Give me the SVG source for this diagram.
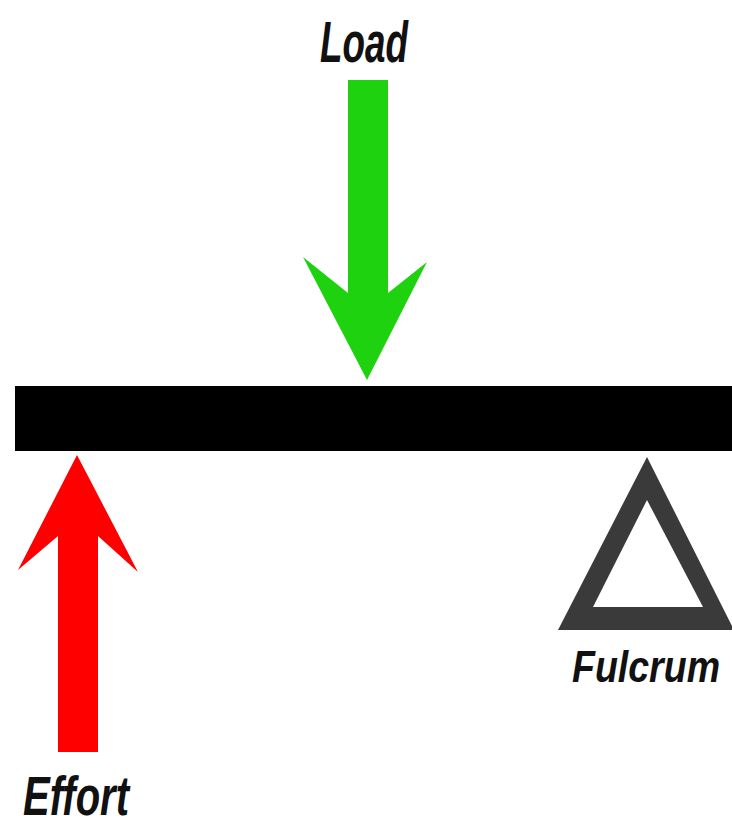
<svg xmlns="http://www.w3.org/2000/svg" width="732" height="825" viewBox="0 0 732 825">
<style>
.lbl{font-family:"Liberation Sans","DejaVu Sans",sans-serif;font-weight:bold;font-style:italic;fill:#111}
</style>
<rect width="732" height="825" fill="#ffffff"/>
<g id="beam"><rect x="15" y="386" width="717" height="65" fill="#000"/></g>
<g id="connectors">
<polygon id="load-arrow" points="348,80 388,80 388,293 427,262 367,380 303,257 348,293" fill="#1fd20f"/>
<polygon id="effort-arrow" points="58,752 98,752 98,536 138,572 77,455 18,570 58,536" fill="#ff0000"/>
</g>
<g id="load"><text class="lbl" x="320" y="62" font-size="58" textLength="88" lengthAdjust="spacingAndGlyphs">Load</text></g>
<g id="effort"><text class="lbl" x="23" y="815" font-size="56" textLength="106" lengthAdjust="spacingAndGlyphs">Effort</text></g>
<g id="fulcrum">
<path d="M647,457 L734,630 L558,630 Z M647,500 L593,607 L703,607 Z" fill="#3a3a3a" fill-rule="evenodd"/>
<text class="lbl" x="572" y="682" font-size="45" textLength="148" lengthAdjust="spacingAndGlyphs">Fulcrum</text>
</g>
</svg>
